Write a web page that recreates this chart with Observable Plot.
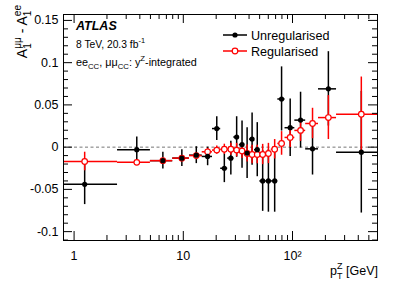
<!DOCTYPE html>
<html><head><meta charset="utf-8">
<script src="https://cdn.jsdelivr.net/npm/d3@7"></script>
<script src="https://cdn.jsdelivr.net/npm/@observablehq/plot@0.6"></script>
<style>
body{margin:0;background:#fff;}
#chart{position:relative;width:398px;height:286px;overflow:hidden;}
</style></head><body><div id="chart"></div>
<script>
// ---- data ----
const binEdges = [0, 2.5, 5, 8, 11.4, 14.9, 18.5, 22, 25.5, 29, 32.6, 36.4, 40.4, 44.9, 50.2, 56.4, 63.9, 73.4, 85.4, 105, 132, 173, 253, 600];
const unregValues = [-0.044, -0.003, -0.016, -0.013, -0.0095, -0.011, 0.022, -0.025, -0.013, 0.012, 0.003, -0.007, 0.0095, -0.003, -0.040, -0.040, -0.040, 0.057, 0.023, 0.032, -0.002, 0.069, -0.006];
const unregErrors = [0.024, 0.015, 0.010, 0.010, 0.010, 0.011, 0.014, 0.017, 0.020, 0.024, 0.028, 0.030, 0.031, 0.032, 0.036, 0.037, 0.037, 0.038, 0.034, 0.033, 0.031, 0.044, 0.072];
const regValues = [-0.017, -0.018, -0.016, -0.013, -0.010, -0.0055, -0.0035, -0.0025, -0.0025, -0.0035, -0.0045, -0.0075, -0.0087, -0.0087, -0.0087, -0.0075, -0.0025, 0.0044, 0.0115, 0.0198, 0.028, 0.035, 0.039];
const regErrors = [0.011, 0.003, 0.003, 0.003, 0.003, 0.004, 0.005, 0.006, 0.007, 0.008, 0.009, 0.010, 0.011, 0.011, 0.012, 0.012, 0.0115, 0.014, 0.012, 0.013, 0.018, 0.026, 0.044];
const xTickValues = [1, 10, 100];
const xTickLabels = ["1", "10", "10\u00B2"];
const yTickValues = [-0.1, -0.05, 0, 0.05, 0.1, 0.15];
const yTickLabels = ["-0.1", "-0.05", "0", "0.05", "0.1", "0.15"];
const legendLabels = ["Unregularised", "Regularised"];
const seriesColors = ["#000000", "#ff0000"];

// ---- layout ----
const W = 398, H = 286, mL = 63, mR = 21, mT = 14, mB = 46;
const pw = W - mL - mR, ph = H - mT - mB;
const xDomain = [0.8, 600], yDomain = [-0.1105, 0.157];
const FONT = "'Liberation Sans', Arial, Helvetica, sans-serif";

const rows = unregValues.map((v, i) => ({
  lo: binEdges[i], hi: binEdges[i + 1], c: (binEdges[i] + binEdges[i + 1]) / 2,
  u: v, ue: unregErrors[i], r: regValues[i], re: regErrors[i]
}));

const xMinor = [];
for (const dec of [1, 10, 100]) for (let k = 2; k <= 9; k++) { const v = k * dec; if (v < xDomain[1]) xMinor.push(v); }
const yMinor = [];
for (let k = -11; k <= 15; k++) { if (k % 5 !== 0) yMinor.push(k / 100); }

const lw = 1.5;
const chart = Plot.plot({
  width: W, height: H,
  marginLeft: mL, marginRight: mR, marginTop: mT, marginBottom: mB,
  style: {fontFamily: FONT, background: "white"},
  x: {type: "log", domain: xDomain, axis: null},
  y: {domain: yDomain, axis: null},
  marks: [
    Plot.ruleY([0], {stroke: "#777", strokeDasharray: "3,2.5", strokeWidth: 1}),
    Plot.ruleY(rows, {y: "u", x1: d => Math.max(d.lo, xDomain[0]), x2: "hi", stroke: seriesColors[0], strokeWidth: lw}),
    Plot.ruleX(rows, {x: "c", y1: d => d.u - d.ue, y2: d => d.u + d.ue, stroke: seriesColors[0], strokeWidth: lw}),
    Plot.ruleY(rows, {y: "r", x1: d => Math.max(d.lo, xDomain[0]), x2: "hi", stroke: seriesColors[1], strokeWidth: lw}),
    Plot.ruleX(rows, {x: "c", y1: d => d.r - d.re, y2: d => d.r + d.re, stroke: seriesColors[1], strokeWidth: lw}),
    Plot.dot(rows, {x: "c", y: "r", r: 2.8, stroke: seriesColors[1], fill: "white", strokeWidth: 1.2}),
    Plot.dot(rows, {x: "c", y: "u", r: 2.6, fill: seriesColors[0], stroke: "none"}),
    Plot.tickY(yTickValues, {y: d => d, insetRight: pw - 9, stroke: "black"}),
    Plot.tickY(yTickValues, {y: d => d, insetLeft: pw - 9, stroke: "black"}),
    Plot.tickY(yMinor, {y: d => d, insetRight: pw - 5, stroke: "black"}),
    Plot.tickY(yMinor, {y: d => d, insetLeft: pw - 5, stroke: "black"}),
    Plot.tickX(xTickValues, {x: d => d, insetTop: ph - 9, stroke: "black"}),
    Plot.tickX(xTickValues, {x: d => d, insetBottom: ph - 9, stroke: "black"}),
    Plot.tickX(xMinor, {x: d => d, insetTop: ph - 5, stroke: "black"}),
    Plot.tickX(xMinor, {x: d => d, insetBottom: ph - 5, stroke: "black"}),
    Plot.frame({stroke: "black", strokeWidth: 1}),
    Plot.text(xTickValues, {x: d => d, text: d => xTickLabels[xTickValues.indexOf(d)], frameAnchor: "bottom", dy: 15, lineAnchor: "middle", fontSize: 12.5, fill: "black"}),
    Plot.text(yTickValues, {y: d => d, text: d => yTickLabels[yTickValues.indexOf(d)], frameAnchor: "left", textAnchor: "end", dx: -5, lineAnchor: "middle", fontSize: 12.5, fill: "black"})
  ]
});
document.getElementById("chart").appendChild(chart);

const svg = d3.select(chart);

function rich(x, y, parts, o) {
  const outer = svg.append("g").attr("transform", `translate(${x},${y})` + (o.rotate ? ` rotate(${o.rotate})` : ""));
  const g = outer.append("g");
  const fs = o.size, ss = fs * (o.small || 0.72);
  let cx = 0;
  const mk = (t, size, yy, xx) => g.append("text").attr("x", xx).attr("y", yy)
      .attr("text-anchor", "start")
      .attr("font-size", size).attr("font-family", FONT)
      .attr("font-weight", o.weight || "normal").attr("font-style", o.style || "normal")
      .attr("fill", o.fill || "black").text(t);
  for (const p of parts) {
    if (p.t) { const e = mk(p.t, fs, 0, cx); cx += e.node().getComputedTextLength(); }
    let w = 0;
    if (p.sup) { const e = mk(p.sup, ss, -fs * 0.45, cx); w = Math.max(w, e.node().getComputedTextLength()); }
    if (p.sub) { const e = mk(p.sub, ss, fs * 0.3, cx); w = Math.max(w, e.node().getComputedTextLength()); }
    cx += w;
  }
  if (o.anchor === "end") g.attr("transform", `translate(${-cx},0)`);
  return outer;
}

rich(76, 30, [{t: "ATLAS"}], {size: 12.5, weight: "bold", style: "italic"});
rich(76, 48, [{t: "8 TeV, 20.3 fb", sup: "-1"}], {size: 10.3});
rich(76, 66, [{t: "ee", sub: "CC"}, {t: ", \u03BC\u03BC", sub: "CC"}, {t: ": y", sup: "Z"}, {t: "-integrated"}], {size: 10.8});

rich(27, 5, [{t: "A", sub: "1", sup: "\u03BC\u03BC"}, {t: " - A", sub: "1", sup: "ee"}], {size: 14, rotate: -90, anchor: "end"});
rich(378, 275, [{t: "p", sub: "T", sup: "Z"}, {t: " [GeV]"}], {size: 12.5, anchor: "end"});

const legY = [35, 51];
legendLabels.forEach((lab, i) => {
  const gg = svg.append("g");
  gg.append("line").attr("x1", 223).attr("x2", 247).attr("y1", legY[i]).attr("y2", legY[i]).attr("stroke", seriesColors[i]).attr("stroke-width", lw);
  if (i === 0) gg.append("circle").attr("cx", 235).attr("cy", legY[i]).attr("r", 2.6).attr("fill", seriesColors[i]);
  else gg.append("circle").attr("cx", 235).attr("cy", legY[i]).attr("r", 2.8).attr("fill", "white").attr("stroke", seriesColors[i]).attr("stroke-width", 1.2);
  gg.append("text").attr("x", 251).attr("y", legY[i] + 4.5).attr("text-anchor", "start").attr("font-size", 12.6).attr("font-family", FONT).attr("fill", "black").text(lab);
});
</script></body></html>
